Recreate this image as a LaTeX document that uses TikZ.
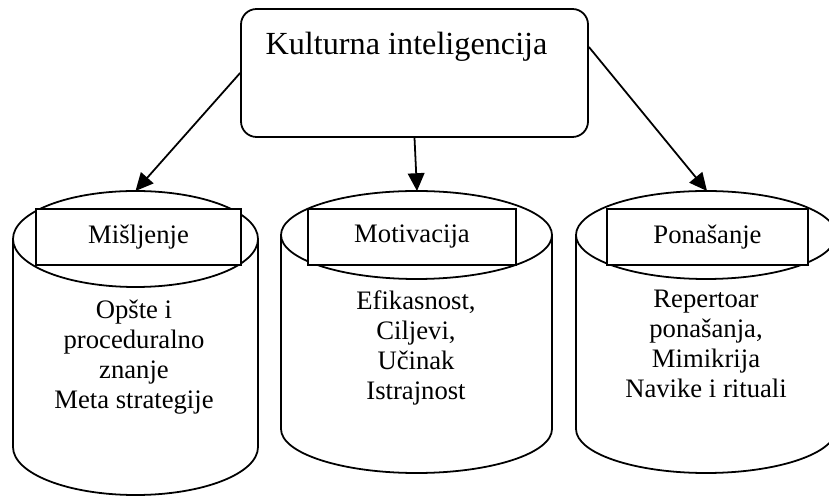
\documentclass[tikz,border=0pt]{standalone}
\usepackage{fontspec}
\setmainfont{Liberation Serif}
\usetikzlibrary{arrows.meta}

\begin{document}
\begin{tikzpicture}[x=0.45pt,y=-0.45pt,line width=0.8pt,
  strelica/.style={-{Triangle[length=8pt,width=7.5pt]}},
  oznaka/.style={draw,fill=white,minimum height=25.2pt,inner sep=0pt,font=\fontsize{12}{13.5}\selectfont},
  tekst/.style={align=center,anchor=north,inner sep=0pt,font=\fontsize{12}{13.5}\selectfont,
    execute at begin node={\setlength{\baselineskip}{13.5pt}}}]
\useasboundingbox (0,0) rectangle (829,496);
\clip (0,0) rectangle (829,496);
% gornji okvir
\node[draw,rounded corners=7pt,minimum width=156.15pt,minimum height=57.6pt] (ki) at (414.5,73) {};
\node[anchor=base,inner sep=0pt,font=\fontsize{14.5}{16}\selectfont] (kinaslov) at (406.5,55) {Kulturna inteligencija};
% cilindri
\draw (135.5,239) ellipse (122.5 and 48);
\draw (13,239) -- (13,447) arc[start angle=180,end angle=0,x radius=122.5,y radius=48] -- (258,239);
\draw (416.5,235) ellipse (135.5 and 44);
\draw (281,235) -- (281,429) arc[start angle=180,end angle=0,x radius=135.5,y radius=44] -- (552,235);
\draw (706,235) ellipse (130 and 44);
\draw (576,235) -- (576,429) arc[start angle=180,end angle=0,x radius=130,y radius=44] -- (836,235);
\coordinate (c1) at (135.5,191);
\coordinate (c2) at (417,191);
\coordinate (c3) at (707,191);
% oznake
\node[oznaka,minimum width=92.25pt] (misljenje) at (138.5,237) {Mišljenje};
\node[oznaka,minimum width=93.6pt] (motivacija) at (412,237) {Motivacija};
\node[oznaka,minimum width=90.45pt] (ponasanje) at (707.5,237) {Ponašanje};
% sadrzaj
\node[tekst] (misljenjetxt) at (134,299) {Opšte i\\proceduralno\\znanje\\Meta strategije};
\node[tekst] (motivacijatxt) at (416,290) {Efikasnost,\\Ciljevi,\\Učinak\\Istrajnost};
\node[tekst] (ponasanjetxt) at (706,289) {Repertoar\\ponašanja,\\Mimikrija\\Navike i rituali};
% strelice
\draw[strelica] (ki.west) -- (c1);
\draw[strelica] (ki.south) -- (c2);
\draw[strelica] ([yshift=11.7pt]ki.east) -- (c3);
\end{tikzpicture}
\end{document}
